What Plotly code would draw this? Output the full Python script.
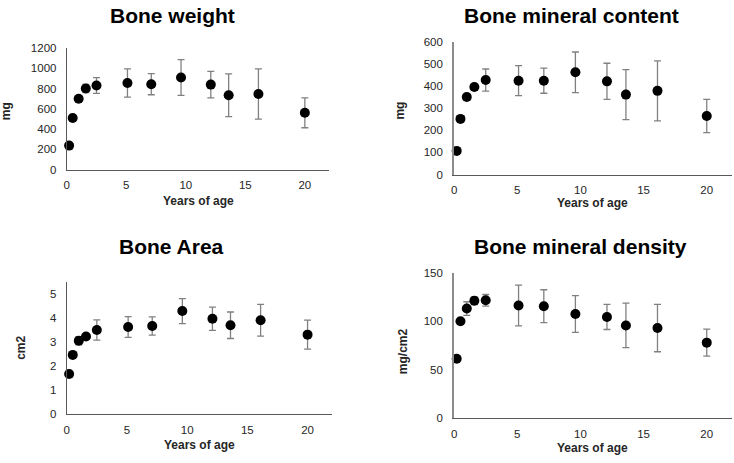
import plotly.graph_objects as go

W, H = 734, 463

years = [0.2, 0.5, 1.0, 1.6, 2.5, 5.1, 7.1, 9.6, 12.1, 13.6, 16.1, 20.0]

weight = [237, 509, 698, 800, 829, 854, 842, 909, 838, 733, 746, 560]
weight_err = [18, 22, 25, 40, 77, 140, 104, 176, 130, 210, 248, 147]

bmc = [107, 252, 351, 396, 428, 425, 425, 463, 422, 362, 379, 265]
bmc_err = [8, 10, 15, 15, 50, 68, 57, 92, 82, 113, 136, 75]

area = [1.67, 2.46, 3.05, 3.22, 3.49, 3.62, 3.66, 4.28, 3.96, 3.69, 3.90, 3.30]
area_err = [0.05, 0.08, 0.17, 0.08, 0.42, 0.43, 0.38, 0.52, 0.48, 0.55, 0.66, 0.60]

bmd = [61.3, 100.1, 113.2, 121.3, 121.7, 116.3, 115.6, 107.5, 104.5, 95.7, 93.0, 77.9]
bmd_err = [3, 2, 7, 4, 6, 21, 17, 19, 13, 23, 24.5, 14]

titles = ["Bone weight", "Bone mineral content", "Bone Area", "Bone mineral density"]
y_titles = ["mg", "mg", "cm2", "mg/cm2"]
x_title = "Years of age"

x_ticks = [0, 5, 10, 15, 20]

panels = [
    # values, errors, yrange, dtick, x px domain, y px domain (top, bottom)
    (weight, weight_err, [0, 1200], 200, (64, 327), (43, 168)),
    (bmc, bmc_err, [0, 600], 100, (453, 732), (37, 173)),
    (area, area_err, [0, 5.5], 1, (64, 330), (283, 419)),
    (bmd, bmd_err, [0, 150], 50, (453, 732), (274, 423)),
]

title_pos = [(170, 9.5), (571, 10), (169, 247), (580, 247)]
xt_pos = [(196, 200), (592, 202), (197, 451), (592, 454)]
yt_pos = [(3, 108), (399, 107), (18, 351), (401, 354)]
yline = [("#595959", 1), ("#8c8c8c", 2), ("#595959", 1), ("#8c8c8c", 2)]

FONT = "Liberation Sans, Arial, sans-serif"

fig = go.Figure()
layout = dict(
    width=W, height=H,
    margin=dict(l=0, r=0, t=0, b=0),
    paper_bgcolor="white", plot_bgcolor="white",
    showlegend=False,
    font=dict(family=FONT, size=11, color="#262626"),
    annotations=[],
)

for i, (vals, errs, yr, dt, (x0, x1), (yt, yb)) in enumerate(panels):
    n = i + 1
    xa = "xaxis" if n == 1 else f"xaxis{n}"
    ya = "yaxis" if n == 1 else f"yaxis{n}"
    xref = "x" if n == 1 else f"x{n}"
    yref = "y" if n == 1 else f"y{n}"
    fig.add_trace(go.Scatter(
        x=years, y=vals, mode="markers",
        marker=dict(color="black", size=10),
        error_y=dict(type="data", array=errs, visible=True,
                     color="#808080", thickness=1.3, width=3.5),
        xaxis=xref, yaxis=yref, cliponaxis=False,
    ))
    layout[xa] = dict(
        domain=[x0 / W, x1 / W], anchor=yref,
        range=[0, 22], tickvals=x_ticks, showgrid=False, zeroline=False,
        showline=True, linecolor="#595959", linewidth=1,
        ticks="", ticklabelstandoff=5,
        tickfont=dict(size=11.5, color="#262626"),
    )
    layout[ya] = dict(
        domain=[1 - yb / H, 1 - yt / H], anchor=xref,
        range=yr, dtick=dt, tick0=0, showgrid=False, zeroline=False,
        showline=True, linecolor=yline[i][0], linewidth=yline[i][1],
        ticks="", ticklabelstandoff=7,
        tickfont=dict(size=11.5, color="#262626"),
    )
    tx, ty = title_pos[i]
    layout["annotations"].append(dict(
        text=f"<b>{titles[i]}</b>", x=tx / W, y=1 - ty / H,
        xref="paper", yref="paper", showarrow=False,
        xanchor="center", yanchor="middle", borderpad=0,
        font=dict(size=21, color="black", family=FONT),
    ))
    ax_, ay_ = xt_pos[i]
    layout["annotations"].append(dict(
        text=f"<b>{x_title}</b>", x=ax_ / W, y=1 - ay_ / H,
        xref="paper", yref="paper", showarrow=False,
        xanchor="center", yanchor="middle", borderpad=0,
        font=dict(size=12, color="#262626", family=FONT),
    ))
    bx, by = yt_pos[i]
    layout["annotations"].append(dict(
        text=f"<b>{y_titles[i]}</b>", x=bx / W, y=1 - by / H,
        xref="paper", yref="paper", showarrow=False, textangle=-90,
        xanchor="center", yanchor="middle", borderpad=0,
        font=dict(size=12, color="#262626", family=FONT),
    ))

fig.update_layout(**layout)
fig.write_html("out.html", config={"displayModeBar": False},
               post_script="document.body.style.margin='0';document.documentElement.style.overflow='hidden';document.body.style.overflow='hidden';")
